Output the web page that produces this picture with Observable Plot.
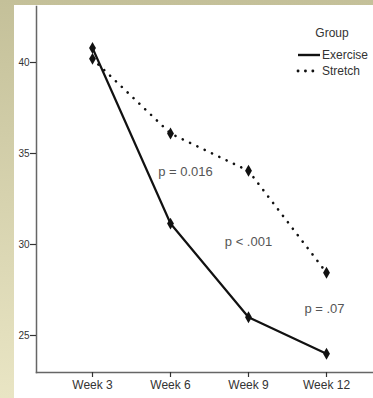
<!DOCTYPE html>
<html>
<head>
<meta charset="utf-8">
<script src="https://cdn.jsdelivr.net/npm/d3@7"></script>
<script src="https://cdn.jsdelivr.net/npm/@observablehq/plot@0.6"></script>
<style>
  html, body { margin: 0; padding: 0; }
  body {
    width: 373px; height: 398px; overflow: hidden;
    background: linear-gradient(#c4c099, #e9e5c4);
    position: relative;
  }
  #panel {
    position: absolute; left: 14px; top: 5px;
    width: 359px; height: 393px; background: #fff;
  }
  svg { display: block; }
</style>
</head>
<body>
<div id="panel"></div>
<script>
const weeks = ["Week 3", "Week 6", "Week 9", "Week 12"];
const exercise = [40.8, 31.15, 26.0, 24.0];
const stretch = [40.2, 36.1, 34.05, 28.45];
const yTicks = [25, 30, 35, 40];
const groups = ["Exercise", "Stretch"];
const pLabels = ["p = 0.016", "p < .001", "p = .07"];
const pWeeks = ["Week 6", "Week 9", "Week 12"];
const pValues = [33.97, 30.13, 26.48];
const pOffsets = [15, 0, -2];

const rows = [];
weeks.forEach((w, i) => {
  rows.push({week: w, value: exercise[i], group: groups[0]});
  rows.push({week: w, value: stretch[i], group: groups[1]});
});
const ex = rows.filter(d => d.group === "Exercise");
const st = rows.filter(d => d.group === "Stretch");
const ann = pLabels.map((t, i) => ({text: t, week: pWeeks[i], value: pValues[i], dx: pOffsets[i]}));

const W = 359, H = 393;
const chart = Plot.plot({
  width: W, height: H,
  marginLeft: 22, marginRight: 0, marginTop: 1, marginBottom: 26,
  style: {fontFamily: "'Liberation Sans', Arial, sans-serif", background: "#fff", overflow: "visible"},
  x: {type: "point", domain: weeks, range: [78, 312], padding: 0},
  y: {domain: [25, 40], range: [330, 57]},
  marks: [
    Plot.frame({anchor: "left", stroke: "#666", strokeWidth: 1.5}),
    Plot.frame({anchor: "bottom", stroke: "#666", strokeWidth: 1.5}),
    Plot.axisY({ticks: yTicks, tickSize: 6, tickPadding: 1, fontSize: 10, stroke: "#333", color: "#333", label: null, strokeWidth: 1.2}),
    Plot.axisX({tickSize: 5, tickPadding: 3, fontSize: 12, color: "#333", stroke: "#333", label: null, strokeWidth: 1.2}),
    Plot.line(st, {x: "week", y: "value", stroke: "#111", strokeWidth: 2.6, strokeDasharray: "0.1 8", strokeLinecap: "round"}),
    Plot.line(ex, {x: "week", y: "value", stroke: "#111", strokeWidth: 2.2}),
    Plot.dot(rows, {x: "week", y: "value", symbol: "diamond", r: 3.6, fill: "#111", stroke: "none"}),
    ...ann.map(a => Plot.text([a], {x: "week", y: "value", text: "text", dx: a.dx, fontSize: 13, fill: "#555"}))
  ]
});
document.getElementById("panel").appendChild(chart);

const svg = d3.select(chart);

// Legend
const lg = svg.append("g").attr("font-family", "'Liberation Sans', Arial, sans-serif").attr("font-size", 12).attr("fill", "#333");
lg.append("text").attr("x", 318).attr("y", 28).attr("text-anchor", "middle").attr("dominant-baseline", "central").text("Group");
const legendStyles = [{y: 50, dash: null}, {y: 66, dash: "0.1 7.3"}];
groups.forEach((g, i) => {
  const s = legendStyles[i];
  const l = lg.append("line").attr("x1", 284).attr("x2", 306).attr("y1", s.y).attr("y2", s.y)
    .attr("stroke", "#111").attr("stroke-width", i === 0 ? 2.4 : 2.8).attr("stroke-linecap", i === 0 ? "butt" : "round");
  if (s.dash) l.attr("stroke-dasharray", s.dash);
  lg.append("text").attr("x", 308).attr("y", s.y).attr("text-anchor", "start").attr("dominant-baseline", "central").text(g);
});
</script>
</body>
</html>
